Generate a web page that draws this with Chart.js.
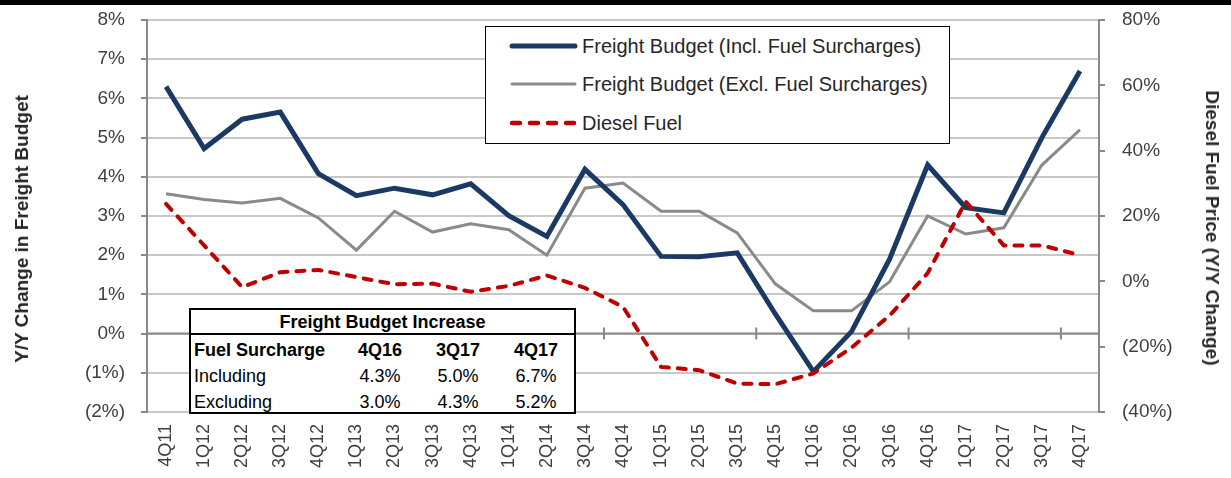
<!DOCTYPE html>
<html>
<head>
<meta charset="utf-8">
<script src="https://cdn.jsdelivr.net/npm/chart.js@4/dist/chart.umd.min.js"></script>
<style>
  html, body { margin: 0; padding: 0; background: #fff; }
  #wrap { position: relative; width: 1231px; height: 478px; overflow: hidden; font-family: "Liberation Sans", Arial, sans-serif; }
  #c { position: absolute; left: 0; top: 0; }
  #topbar { position: absolute; left: 0; top: 0; width: 1231px; height: 5px; background: #000; }
  .ytitle { position: absolute; font-weight: bold; font-size: 19px; color: #262626; white-space: nowrap; transform: translate(-50%, -50%) rotate(-90deg); }
  .ytitle.r { transform: translate(-50%, -50%) rotate(90deg); }
  #legend { position: absolute; left: 485px; top: 26px; width: 463px; height: 116px; border: 1.5px solid #000; background: #fff; }
  #legend .lbl { position: absolute; left: 96px; font-size: 20px; color: #262626; white-space: nowrap; transform: translateY(-50%); }
  #legend svg { position: absolute; left: 22px; }
  #tbl { position: absolute; left: 189px; top: 308px; width: 383px; height: 102px; border: 2px solid #000; background: #fff; color: #000; font-size: 18px; }
  #tbl .head { position: absolute; left: 0; top: 0; width: 383px; height: 23px; border-bottom: 2px solid #000; font-weight: bold; text-align: center; line-height: 24px; }
  #tbl .cell { position: absolute; white-space: nowrap; transform: translate(-50%, -50%); }
  #tbl .first { position: absolute; white-space: nowrap; transform: translateY(-50%); }
</style>
</head>
<body>
<div id="wrap">
  <canvas id="c" width="1231" height="478"></canvas>
  <div id="topbar"></div>
  <div id="legend"></div>
  <div id="tbl"></div>
</div>
<script>
// ---------------- DATA ----------------
const categories = ['4Q11','1Q12','2Q12','3Q12','4Q12','1Q13','2Q13','3Q13','4Q13','1Q14','2Q14','3Q14','4Q14',
                    '1Q15','2Q15','3Q15','4Q15','1Q16','2Q16','3Q16','4Q16','1Q17','2Q17','3Q17','4Q17'];
const inclFuel = [6.3, 4.72, 5.47, 5.65, 4.08, 3.52, 3.71, 3.54, 3.82, 3.01, 2.48, 4.19, 3.29,
                  1.97, 1.96, 2.06, 0.5, -0.97, 0.05, 1.9, 4.3, 3.21, 3.08, 5.0, 6.7];
const exclFuel = [3.57, 3.42, 3.33, 3.45, 2.95, 2.13, 3.12, 2.59, 2.80, 2.65, 2.0, 3.71, 3.84,
                  3.12, 3.12, 2.57, 1.27, 0.58, 0.58, 1.32, 3.0, 2.54, 2.70, 4.3, 5.2];
const dieselFuel = [23.7, 11.0, -1.8, 2.8, 3.5, 1.3, -0.9, -0.7, -3.2, -1.4, 1.8, -2.0, -7.8,
                    -26.2, -27.2, -31.3, -31.5, -28.2, -20.3, -10.5, 2.5, 24.4, 11.0, 11.0, 8.0];
const seriesNames = ['Freight Budget (Incl. Fuel Surcharges)', 'Freight Budget (Excl. Fuel Surcharges)', 'Diesel Fuel'];
const leftTicks = { min: -2, max: 8, step: 1 };
const rightTicks = { min: -40, max: 80, step: 20 };
const leftTitle = 'Y/Y Change in Freight Budget';
const rightTitle = 'Diesel Fuel Price (Y/Y Change)';
const tableTitle = 'Freight Budget Increase';
const tableHeader = ['Fuel Surcharge', '4Q16', '3Q17', '4Q17'];
const tableIncluding = ['Including', '4.3%', '5.0%', '6.7%'];
const tableExcluding = ['Excluding', '3.0%', '4.3%', '5.2%'];
const axisTickEvery = 4;

// ---------------- STYLE ----------------
const NAVY = '#1b3a63', GRAY = '#8a8a8a', RED = '#c00000';
const yTickFont = { family: 'Liberation Sans', size: 19 };
const xTickFont = { family: 'Liberation Sans', size: 18 };
const fmtPct = v => v < 0 ? '(' + Math.abs(v) + '%)' : v + '%';

// zero axis line with tick marks every 4 categories
const zeroAxis = {
  id: 'zeroAxis',
  beforeDatasetsDraw(chart) {
    const { ctx, chartArea } = chart;
    const x = chart.scales.x, y = chart.scales.y;
    const y0 = y.getPixelForValue(0);
    ctx.save();
    ctx.strokeStyle = '#888';
    ctx.lineWidth = 2;
    ctx.beginPath();
    ctx.moveTo(chartArea.left, y0);
    ctx.lineTo(chartArea.right, y0);
    for (let i = axisTickEvery; i < categories.length; i += axisTickEvery) {
      const bx = (x.getPixelForValue(i - 1) + x.getPixelForValue(i)) / 2;
      ctx.moveTo(bx, y0 - 6);
      ctx.lineTo(bx, y0 + 6);
    }
    ctx.stroke();
    ctx.restore();
  }
};

new Chart(document.getElementById('c'), {
  type: 'line',
  data: {
    labels: categories,
    datasets: [
      { label: seriesNames[2], data: dieselFuel, yAxisID: 'y1', borderColor: RED, borderWidth: 4,
        borderDash: [8, 9], borderCapStyle: 'round', order: 0 },
      { label: seriesNames[0], data: inclFuel, yAxisID: 'y', borderColor: NAVY, borderWidth: 5, order: 1 },
      { label: seriesNames[1], data: exclFuel, yAxisID: 'y', borderColor: GRAY, borderWidth: 3, order: 2 }
    ]
  },
  options: {
    responsive: false,
    animation: false,
    events: [],
    layout: { padding: { top: 20, bottom: 0, left: 0, right: 0 } },
    elements: { point: { radius: 0 }, line: { tension: 0, fill: false } },
    plugins: { legend: { display: false }, tooltip: { enabled: false } },
    scales: {
      x: {
        type: 'category',
        offset: true,
        grid: { display: false, drawTicks: false },
        border: { display: false },
        ticks: { autoSkip: false, minRotation: 90, maxRotation: 90, padding: 12, color: '#404040', font: xTickFont },
        afterFit(s) { s.height = 66; s.paddingLeft = 0; s.paddingRight = 0; }
      },
      y: {
        position: 'left',
        min: leftTicks.min, max: leftTicks.max,
        ticks: { stepSize: leftTicks.step, callback: fmtPct, padding: 16, color: '#404040', font: yTickFont },
        grid: { color: '#c8c8c8', lineWidth: 2, tickColor: '#888', tickLength: 6, tickWidth: 2 },
        border: { color: '#888', width: 2 },
        afterFit(s) { s.width = 147; s.paddingTop = 0; s.paddingBottom = 0; }
      },
      y1: {
        position: 'right',
        min: rightTicks.min, max: rightTicks.max,
        ticks: { stepSize: rightTicks.step, callback: fmtPct, padding: 17, color: '#404040', font: yTickFont },
        grid: { drawOnChartArea: false, color: '#888', lineWidth: 2, tickLength: 6 },
        border: { color: '#888', width: 2 },
        afterFit(s) { s.width = 132; s.paddingTop = 0; s.paddingBottom = 0; }
      }
    }
  },
  plugins: [zeroAxis]
});

// ---------------- axis titles ----------------
const wrap = document.getElementById('wrap');
function addTitle(text, cx, cy, right) {
  const d = document.createElement('div');
  d.className = 'ytitle' + (right ? ' r' : '');
  d.textContent = text;
  d.style.left = cx + 'px'; d.style.top = cy + 'px';
  wrap.appendChild(d);
}
addTitle(leftTitle, 22, 229, false);
addTitle(rightTitle, 1212, 228, true);

// ---------------- legend ----------------
const legend = document.getElementById('legend');
const legendStyles = [
  { color: NAVY, width: 5, dash: '' },
  { color: GRAY, width: 3, dash: '' },
  { color: RED, width: 4.5, dash: '8 10' }
];
const legendY = [19, 57, 96];
seriesNames.forEach((name, i) => {
  const st = legendStyles[i];
  const svg = document.createElementNS('http://www.w3.org/2000/svg', 'svg');
  svg.setAttribute('width', '72'); svg.setAttribute('height', '14');
  svg.style.top = (legendY[i] - 7) + 'px';
  const ln = document.createElementNS('http://www.w3.org/2000/svg', 'line');
  ln.setAttribute('x1', '4'); ln.setAttribute('x2', '67'); ln.setAttribute('y1', '7'); ln.setAttribute('y2', '7');
  ln.setAttribute('stroke', st.color); ln.setAttribute('stroke-width', st.width);
  ln.setAttribute('stroke-linecap', 'round');
  if (st.dash) ln.setAttribute('stroke-dasharray', st.dash);
  svg.appendChild(ln);
  legend.appendChild(svg);
  const lbl = document.createElement('div');
  lbl.className = 'lbl';
  lbl.style.top = legendY[i] + 'px';
  lbl.textContent = name;
  legend.appendChild(lbl);
});

// ---------------- table ----------------
const tbl = document.getElementById('tbl');
const head = document.createElement('div');
head.className = 'head'; head.textContent = tableTitle;
tbl.appendChild(head);
const rowY = [40, 66, 92];
const colX = [189, 267, 345];
[tableHeader, tableIncluding, tableExcluding].forEach((row, r) => {
  row.forEach((txt, c) => {
    const d = document.createElement('div');
    d.textContent = txt;
    if (r === 0) d.style.fontWeight = 'bold';
    d.style.top = rowY[r] + 'px';
    if (c === 0) { d.className = 'first'; d.style.left = '3px'; }
    else { d.className = 'cell'; d.style.left = colX[c - 1] + 'px'; }
    tbl.appendChild(d);
  });
});
</script>
</body>
</html>
